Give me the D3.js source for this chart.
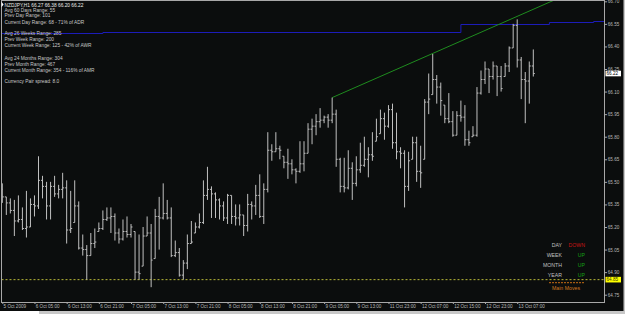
<!DOCTYPE html>
<html>
<head>
<meta charset="utf-8">
<script src="https://cdn.jsdelivr.net/npm/d3@7"></script>
<style>
  body { margin: 0; background: #0b0d0d; }
  svg { display: block; }
</style>
</head>
<body>
<div id="chart"></div>
<script>
;(function() {
  "use strict";

  // Data: NZDJPY H1 bars
  // ---------------------------------------------------------------------------
  var opens = [
    65.45,65.40,65.36,65.31,65.24,65.25,65.19,65.20,65.35,65.34,
    65.51,65.47,65.34,65.47,65.42,65.45,65.46,65.18,65.23,65.34,
    65.06,65.05,65.01,65.09,65.17,65.19,65.25,65.26,65.27,65.16,
    65.12,65.17,65.15,65.17,64.90,64.94,65.14,65.16,64.99,65.27,
    65.26,65.29,65.26,65.01,65.03,64.88,64.96,65.09,65.16,65.20,
    65.23,65.41,65.45,65.42,65.38,65.34,65.26,65.41,65.27,65.26,
    65.28,65.21,65.35,65.34,65.41,65.27,65.45,65.71,65.70,65.72,
    65.67,65.63,65.62,65.58,65.57,65.62,65.69,65.85,65.87,65.90,
    65.91,65.93,65.91,65.95,65.65,65.47,65.46,65.59,65.49,65.58,
    65.61,65.65,65.68,65.77,65.82,65.92,65.87,65.98,65.76,65.70,
    65.69,65.47,65.65,65.76,65.57,65.65,66.03,66.08,66.18,66.13,
    66.01,65.92,65.90,65.81,65.94,65.93,65.78,65.80,65.81,66.09,
    66.18,66.25,66.20,66.27,66.20,66.20,66.27,66.39,66.54,66.31,
    66.18,66.17,66.27
  ];
  var highs = [
    65.49,65.40,65.39,65.38,65.41,65.33,65.44,65.39,65.41,65.67,
    65.54,65.50,65.50,65.54,65.48,65.56,65.51,65.44,65.51,65.37,
    65.15,65.08,65.16,65.19,65.23,65.31,65.33,65.33,65.29,65.19,
    65.25,65.27,65.22,65.17,65.15,65.20,65.27,65.22,65.32,65.40,
    65.49,65.38,65.33,65.11,65.06,64.98,65.15,65.24,65.23,65.29,
    65.51,65.60,65.47,65.43,65.39,65.37,65.42,65.41,65.35,65.35,
    65.28,65.42,65.37,65.48,65.55,65.49,65.83,65.75,65.83,65.74,
    65.67,65.72,65.65,65.59,65.77,65.77,65.89,65.92,65.95,65.99,
    65.94,65.95,66.06,65.98,65.66,65.66,65.71,65.63,65.67,65.76,
    65.80,65.73,65.83,65.92,65.98,65.96,66.01,66.02,65.96,65.73,
    65.71,65.70,65.80,65.80,65.74,66.05,66.22,66.35,66.21,66.16,
    66.01,66.09,65.97,65.97,66.04,66.01,65.84,65.87,66.13,66.24,
    66.30,66.25,66.30,66.27,66.27,66.29,66.40,66.55,66.58,66.33,
    66.23,66.30,66.38
  ];
  var lows = [
    65.36,65.28,65.29,65.14,65.23,65.18,65.13,65.20,65.27,65.32,
    65.39,65.25,65.25,65.40,65.39,65.39,65.09,65.16,65.23,65.05,
    65.01,64.85,65.01,65.06,65.17,65.18,65.24,65.16,65.11,65.09,
    65.11,65.13,65.13,64.85,64.85,64.94,65.14,64.80,64.99,65.05,
    65.25,65.25,65.00,65.00,64.87,64.85,64.92,65.09,65.16,65.19,
    65.22,65.38,65.26,65.26,65.25,65.24,65.22,65.22,65.21,65.21,
    65.14,65.17,65.25,65.28,65.26,65.22,65.43,65.64,65.70,65.65,
    65.59,65.52,65.55,65.49,65.56,65.57,65.69,65.75,65.81,65.86,
    65.89,65.86,65.89,65.60,65.43,65.43,65.45,65.38,65.47,65.56,
    65.60,65.53,65.64,65.77,65.82,65.78,65.86,65.72,65.65,65.59,
    65.33,65.44,65.65,65.50,65.46,65.65,65.95,66.08,66.02,65.94,
    65.89,65.89,65.80,65.81,65.90,65.74,65.74,65.80,65.80,66.08,
    66.15,66.09,66.18,66.07,66.10,66.20,66.23,66.39,66.26,66.05,
    65.89,66.02,66.20
  ];
  var closes = [
    65.40,65.36,65.31,65.24,65.25,65.19,65.20,65.35,65.34,65.51,
    65.47,65.34,65.47,65.42,65.45,65.46,65.18,65.19,65.34,65.06,
    65.05,65.01,65.09,65.10,65.19,65.25,65.26,65.27,65.16,65.12,
    65.17,65.15,65.20,64.90,64.89,65.14,65.16,64.98,65.27,65.26,
    65.29,65.26,65.01,65.03,64.88,64.96,65.09,65.10,65.20,65.23,
    65.41,65.45,65.42,65.38,65.34,65.26,65.41,65.27,65.26,65.28,
    65.21,65.35,65.34,65.41,65.27,65.45,65.71,65.70,65.72,65.71,
    65.63,65.62,65.58,65.57,65.62,65.69,65.85,65.87,65.90,65.91,
    65.93,65.91,65.95,65.65,65.47,65.46,65.59,65.49,65.58,65.61,
    65.65,65.68,65.67,65.80,65.92,65.87,65.98,65.76,65.70,65.69,
    65.47,65.64,65.76,65.57,65.56,66.03,66.05,66.18,66.13,66.04,
    65.92,65.90,65.81,65.94,65.93,65.78,65.76,65.81,66.09,66.18,
    66.25,66.20,66.27,66.20,66.12,66.27,66.39,66.54,66.31,66.18,
    66.17,66.27,66.22
  ];

  var tickBars = [0, 8, 16, 24, 32, 40, 48, 56, 64, 72, 80, 88, 96, 104, 112, 120, 128];
  var tickLabels = [
    "5 Oct 2009", "6 Oct 05:00", "6 Oct 13:00", "6 Oct 21:00", "7 Oct 05:00",
    "7 Oct 13:00", "7 Oct 21:00", "8 Oct 05:00", "8 Oct 13:00", "8 Oct 21:00",
    "9 Oct 05:00", "9 Oct 13:00", "11 Oct 23:00", "12 Oct 07:00", "12 Oct 15:00",
    "12 Oct 23:00", "13 Oct 07:00"
  ];
  var priceTicks = [66.70, 66.55, 66.40, 66.25, 66.10, 65.95, 65.80, 65.65,
                    65.50, 65.35, 65.20, 65.05, 64.90, 64.75];

  // trendline through the two swing highs
  var trendBars = [82, 128];
  var trendPrices = [66.06, 66.60];

  // blue level line (steps)
  var levelBars = [-1, 25, 114, 136, 147, 152];
  var levelPrices = [66.49, 66.495, 66.55, 66.56, 66.57, 66.57];

  var lastPrice = 66.22;
  var markPrice = 64.85;

  var infoLines = [
    "NZDJPY,H1  66.27 66.38 66.20 66.22",
    "Avg 60 Days Range: 55",
    "Prev Day Range: 101",
    "Current Day Range: 68 - 71% of ADR",
    "Avg 26 Weeks Range: 285",
    "Prev Week Range: 200",
    "Current Week Range: 125 - 42% of AWR",
    "Avg 24 Months Range: 304",
    "Prev Month Range: 467",
    "Current Month Range: 354 - 116% of AMR",
    "Currency Pair spread: 8.0"
  ];
  var infoY = [5, 10, 15.7, 22.3, 33.7, 39.3, 45.7, 58, 64.3, 70.7, 81.7];

  var trendNames = ["DAY", "WEEK", "MONTH", "YEAR"];
  var trendStates = ["DOWN", "UP", "UP", "UP"];

  // Dimensions
  // ---------------------------------------------------------------------------
  var W = 625, H = 314;
  var plot = { left: 1.5, right: 604.5, top: 0.5, bottom: 302 };

  var x = d3.scaleLinear().domain([0, 132]).range([2.3, 533.3]);
  var y = d3.scaleLinear().domain([64.75, 66.70]).range([294.7, 1.3]);

  var svg = d3.select("#chart").append("svg")
    .attr("width", W)
    .attr("height", H)
    .style("font-family", "'Liberation Sans', Arial, sans-serif");

  svg.append("rect").attr("width", W).attr("height", H).attr("fill", "#0b0d0d");

  svg.append("defs").append("clipPath").attr("id", "clip")
    .append("rect")
      .attr("x", plot.left).attr("y", plot.top)
      .attr("width", plot.right - plot.left)
      .attr("height", plot.bottom - plot.top);

  var g = svg.append("g").attr("clip-path", "url(#clip)");

  // Level line and trendline
  // ---------------------------------------------------------------------------
  var levelLine = d3.line()
    .x(function(d) { return x(d[0]); })
    .y(function(d) { return Math.round(y(d[1])) + 0.5; })
    .curve(d3.curveStepAfter);

  g.append("path")
    .datum(levelBars.map(function(b, i) { return [b, levelPrices[i]]; }))
    .attr("d", levelLine)
    .attr("fill", "none")
    .attr("stroke", "#1c1cb8")
    .attr("stroke-width", 1);

  var slope = (trendPrices[1] - trendPrices[0]) / (trendBars[1] - trendBars[0]);
  g.append("line")
    .attr("x1", x(trendBars[0]))
    .attr("y1", y(trendPrices[0]))
    .attr("x2", x(160))
    .attr("y2", y(trendPrices[0] + slope * (160 - trendBars[0])))
    .attr("stroke", "#1f8c1f")
    .attr("stroke-width", 1);

  // yellow dashed mark line
  g.append("line")
    .attr("x1", plot.left).attr("x2", plot.right)
    .attr("y1", y(markPrice)).attr("y2", y(markPrice))
    .attr("stroke", "#b8b838")
    .attr("stroke-width", 1)
    .attr("stroke-dasharray", "2,2");

  // OHLC bars
  // ---------------------------------------------------------------------------
  var bars = g.append("g").attr("class", "bars")
    .attr("stroke", "#c0c0c0")
    .attr("stroke-width", 1);

  var bar = bars.selectAll("g")
    .data(closes)
    .enter().append("g");

  bar.append("line")
    .attr("x1", function(d, i) { return x(i); })
    .attr("x2", function(d, i) { return x(i); })
    .attr("y1", function(d, i) { return y(highs[i]); })
    .attr("y2", function(d, i) { return y(lows[i]); });

  bar.append("line")
    .attr("x1", function(d, i) { return x(i) - 1.5; })
    .attr("x2", function(d, i) { return x(i); })
    .attr("y1", function(d, i) { return y(opens[i]); })
    .attr("y2", function(d, i) { return y(opens[i]); });

  bar.append("line")
    .attr("x1", function(d, i) { return x(i); })
    .attr("x2", function(d, i) { return x(i) + 1.5; })
    .attr("y1", function(d) { return y(d); })
    .attr("y2", function(d) { return y(d); });

  // Frame
  // ---------------------------------------------------------------------------
  svg.append("rect")
    .attr("x", plot.left).attr("y", plot.top)
    .attr("width", plot.right - plot.left)
    .attr("height", plot.bottom - plot.top + 0.5)
    .attr("fill", "none")
    .attr("stroke", "#a8a8a8")
    .attr("stroke-width", 1);

  // Axes
  // ---------------------------------------------------------------------------
  var yAxis = d3.axisRight(y)
    .tickValues(priceTicks)
    .tickSize(2.5)
    .tickPadding(0.8)
    .tickFormat(d3.format(".2f"));

  var ya = svg.append("g")
    .attr("transform", "translate(" + plot.right + ",0)")
    .call(yAxis);
  ya.select(".domain").remove();
  ya.selectAll("line").attr("stroke", "#a8a8a8");
  ya.selectAll("text")
    .attr("fill", "#b8b8b8")
    .attr("font-size", 4.6)
    .attr("font-family", "'Liberation Sans', Arial, sans-serif");

  var xAxis = d3.axisBottom(x)
    .tickValues(tickBars)
    .tickSize(2)
    .tickFormat(function(d, i) { return tickLabels[i]; });

  var xa = svg.append("g")
    .attr("transform", "translate(0," + plot.bottom + ")")
    .call(xAxis);
  xa.select(".domain").remove();
  xa.selectAll("line").attr("stroke", "#a8a8a8");
  xa.selectAll("text")
    .attr("fill", "#b8b8b8")
    .attr("font-size", 4.6)
    .attr("font-family", "'Liberation Sans', Arial, sans-serif")
    .attr("text-anchor", "start")
    .attr("x", 0.8)
    .attr("y", 6)
    .attr("dy", 0);

  // price labels on the axis
  function priceBox(p, fill, color) {
    var yy = y(p);
    svg.append("rect")
      .attr("x", 605.5).attr("y", yy - 2.8)
      .attr("width", 15.5).attr("height", 5.6)
      .attr("fill", fill);
    svg.append("text")
      .attr("x", 606.5).attr("y", yy + 1.7)
      .attr("font-size", 4.6)
      .attr("fill", color)
      .text(d3.format(".2f")(p));
  }
  priceBox(lastPrice, "#ffffff", "#000000");
  priceBox(markPrice, "#ffff00", "#3a3a00");

  // Info text, top left
  // ---------------------------------------------------------------------------
  svg.append("path")
    .attr("d", "M1.5,1.8 L3.6,4.4 L1.5,7.2 Z")
    .attr("fill", "#ffffff");

  svg.append("g").selectAll("text")
    .data(infoLines)
    .enter().append("text")
      .attr("x", 4.5)
      .attr("y", function(d, i) { return infoY[i] + 1.7; })
      .attr("font-size", 4.8)
      .attr("fill", function(d, i) { return i === 0 ? "#e8e8e8" : "#c8c8c8"; })
      .text(function(d) { return d; });

  // Trend panel, bottom right
  // ---------------------------------------------------------------------------
  var panel = svg.append("g");
  trendNames.forEach(function(name, i) {
    var yy = 245 + i * 10 + 1.7;
    panel.append("text")
      .attr("x", 562).attr("y", yy)
      .attr("text-anchor", "end")
      .attr("font-size", 5.2)
      .attr("fill", "#c0c0c0")
      .text(name);
    panel.append("text")
      .attr("x", 585).attr("y", yy)
      .attr("text-anchor", "end")
      .attr("font-size", 5.2)
      .attr("fill", trendStates[i] === "UP" ? "#14a014" : "#c81414")
      .text(trendStates[i]);
  });
  panel.append("line")
    .attr("x1", 549).attr("x2", 585)
    .attr("y1", 282.7).attr("y2", 282.7)
    .attr("stroke", "#c86e14")
    .attr("stroke-dasharray", "2,1");
  panel.append("text")
    .attr("x", 566).attr("y", 290)
    .attr("text-anchor", "middle")
    .attr("font-size", 5.2)
    .attr("fill", "#d0781e")
    .text("Main Moves");

  // Window bits: bottom tab strip, right edge
  // ---------------------------------------------------------------------------
  svg.append("rect").attr("x", 0).attr("y", 311).attr("width", W).attr("height", 3).attr("fill", "#c8c8c8");
  svg.append("rect").attr("x", 0).attr("y", 311).attr("width", 39).attr("height", 3).attr("fill", "#ffffff");
  svg.append("rect").attr("x", 623.5).attr("y", 0).attr("width", 1.5).attr("height", 311).attr("fill", "#c8c8c8");
})();
</script>
</body>
</html>
